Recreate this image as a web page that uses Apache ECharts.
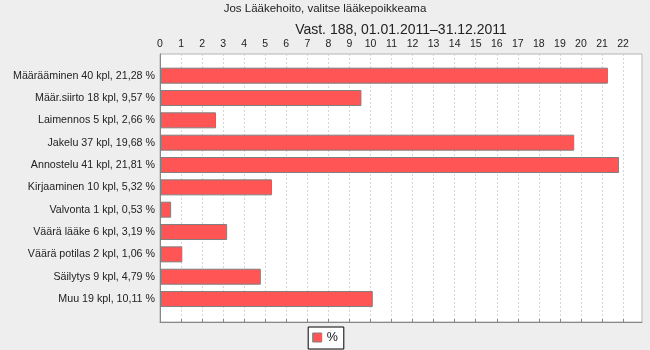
<!DOCTYPE html>
<html>
<head>
<meta charset="utf-8">
<script src="https://cdn.jsdelivr.net/npm/echarts@6/dist/echarts.min.js"></script>
<style>
  html, body { margin: 0; padding: 0; background: #eeeeee; }
  #chart { width: 650px; height: 350px; }
</style>
</head>
<body>
<div id="chart"></div>
<script>
// Medication error categories, counts and share of all responses
const categories = ['Määrääminen', 'Määr.siirto', 'Laimennos', 'Jakelu', 'Annostelu', 'Kirjaaminen',
  'Valvonta', 'Väärä lääke', 'Väärä potilas', 'Säilytys', 'Muu'];
const counts = [40, 18, 5, 37, 41, 10, 1, 6, 2, 9, 19];
const percents = [21.28, 9.57, 2.66, 19.68, 21.81, 5.32, 0.53, 3.19, 1.06, 4.79, 10.11];
const titleText = 'Jos Lääkehoito, valitse lääkepoikkeama';
const axisTitle = 'Vast. 188, 01.01.2011–31.12.2011';
const seriesName = '%';
const axisMax = 22.9;

const labels = categories.map((c, i) =>
  c + ' ' + counts[i] + ' kpl, ' + percents[i].toFixed(2).replace('.', ',') + ' %');

const FONT = 'Liberation Sans';
const chart = echarts.init(document.getElementById('chart'), null, { renderer: 'canvas' });

chart.setOption({
  backgroundColor: '#eeeeee',
  animation: false,
  textStyle: { fontFamily: FONT },
  title: {
    text: titleText,
    left: 'center',
    top: 3,
    padding: 0,
    textStyle: { fontFamily: FONT, fontSize: 11.5, fontWeight: 'normal', color: '#222' }
  },
  legend: {
    data: [seriesName],
    left: 'center',
    top: 327,
    padding: [4, 6, 5, 4],
    itemWidth: 9,
    itemHeight: 9,
    itemGap: 5,
    icon: 'rect',
    backgroundColor: '#ffffff',
    borderColor: '#000000',
    borderWidth: 1,
    borderRadius: 0,
    itemStyle: { borderColor: '#808080', borderWidth: 1 },
    textStyle: { fontFamily: FONT, fontSize: 12.5, color: '#111', padding: [0, 0, 0, 0] }
  },
  grid: [
    // frame of the plot area with the top value axis
    { left: 160, right: 8, top: 54, bottom: 28, show: true, backgroundColor: '#ffffff',
      borderColor: '#b4b4b4', borderWidth: 1, containLabel: false },
    // bars, inset by the category margins
    { left: 160, right: 8, top: 64.5, bottom: 39.8, containLabel: false }
  ],
  xAxis: [
    {
      gridIndex: 0, type: 'value', position: 'top', min: 0, max: axisMax, interval: 1,
      name: axisTitle, nameLocation: 'middle', nameGap: 17, nameMoveOverlap: false,
      nameTextStyle: { fontFamily: FONT, fontSize: 14, color: '#222' },
      axisLine: { show: true, lineStyle: { color: '#888888', width: 1 } },
      axisTick: { show: true, inside: false, length: 3, lineStyle: { color: '#888888' } },
      axisLabel: { show: true, margin: 4, fontSize: 10.5, color: '#222', showMaxLabel: false },
      splitLine: { show: true, lineStyle: { color: '#d6d6d6', type: [2, 2], width: 1 } }
    },
    {
      gridIndex: 1, type: 'value', min: 0, max: axisMax, show: false
    }
  ],
  yAxis: [
    {
      gridIndex: 0, type: 'value', min: 0, max: 1,
      axisLine: { show: true, lineStyle: { color: '#888888', width: 1 } },
      axisTick: { show: false }, axisLabel: { show: false }, splitLine: { show: false }
    },
    {
      gridIndex: 1, type: 'category', data: labels, inverse: true,
      axisLine: { show: false }, axisTick: { show: false },
      axisLabel: { margin: 5, fontSize: 10.7, color: '#222' },
      splitLine: { show: false }
    }
  ],
  series: [
    {
      name: seriesName,
      type: 'bar',
      xAxisIndex: 1,
      yAxisIndex: 1,
      data: percents,
      barWidth: 16,
      itemStyle: { color: '#ff5555', borderColor: '#808080', borderWidth: 1 }
    }
  ]
});
</script>
</body>
</html>
